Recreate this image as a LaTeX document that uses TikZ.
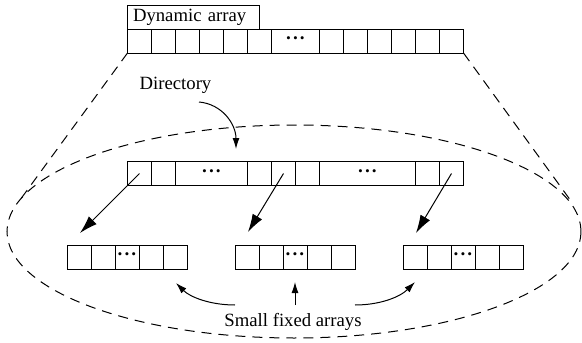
\documentclass[tikz,border=0pt]{standalone}
\usepackage{fontspec}
\setmainfont{Liberation Serif}
\usetikzlibrary{arrows.meta}
\newcommand{\mydots}{\textbf{·\kern0.6pt·\kern0.6pt·}}
\begin{document}
\begin{tikzpicture}[x=1pt,y=-1pt,
  every node/.style={font=\fontsize{18.7}{22}\selectfont},
  cell/.style={draw,line width=1pt,minimum width=24pt,minimum height=24pt,inner sep=0pt,outer sep=0pt,anchor=north west},
  dotfont/.style={font=\fontsize{19}{19}\selectfont},
  ln/.style={line width=1pt},
  bigarr/.style={ln,-{Latex[length=18pt,width=11pt]}},
  smallarr/.style={ln,-{Latex[length=11pt,width=7pt]}},
  dashline/.style={line width=1pt,dash pattern=on 10pt off 7pt}
]
\useasboundingbox (0,0) rectangle (582,343);

% top dynamic array
\node[cell,inner xsep=5.5pt,text width=121pt,align=left] (lbl) at (127.5,5) {Dynamic array};
\foreach \i in {0,...,5} \node[cell] (t\i) at (127.5+24*\i,29) {};
\node[cell,minimum width=48pt,dotfont] (td) at (271.5,29) {\mydots};
\foreach \i in {0,...,5} \node[cell] (u\i) at (319.5+24*\i,29) {};

% ellipse and zoom lines
\draw[dashline] (294,231.5) ellipse [x radius=287pt, y radius=106.5pt];
\coordinate (eL) at (20,200);
\coordinate (eR) at (571,201);
\draw[dashline] (t0.south west) -- (eL);
\draw[dashline] (u5.south east) -- (eR);

% directory
\node[cell] (d1) at (127.5,161.5) {};
\node[cell] (d2) at (151.5,161.5) {};
\node[cell,minimum width=72pt,dotfont] (d3) at (175.5,161.5) {\mydots};
\node[cell] (d4) at (247.5,161.5) {};
\node[cell] (d5) at (271.5,161.5) {};
\node[cell] (d6) at (295.5,161.5) {};
\node[cell,minimum width=96pt,dotfont] (d7) at (319.5,161.5) {\mydots};
\node[cell] (d8) at (415.5,161.5) {};
\node[cell] (d9) at (439.5,161.5) {};

\node (dirlbl) at (175.5,85) {Directory};
\coordinate (dstart) at (199,102);
\coordinate (dend) at (236,149);
\draw[smallarr] (dstart) .. controls (222,104) and (236,124) .. (dend);

% small fixed arrays
\foreach \a/\x in {1/67,2/235,3/403}{
  \node[cell] (s\a a) at (\x,245) {};
  \node[cell] (s\a b) at (\x+24,245) {};
  \node[cell,dotfont] (s\a c) at (\x+48,245) {\mydots};
  \node[cell] (s\a d) at (\x+72,245) {};
  \node[cell] (s\a e) at (\x+96,245) {};
}
\coordinate (p1) at (80,233);
\coordinate (p2) at (248,232);
\coordinate (p3) at (416,233);
\draw[bigarr] (d1.center) -- (p1);
\draw[bigarr] (d5.center) -- (p2);
\draw[bigarr] (d9.center) -- (p3);

\node (sfa) at (293,322) {Small fixed arrays};
\coordinate (b1) at (235,305);
\coordinate (b2) at (295,305);
\coordinate (b3) at (355,305);
\coordinate (q1) at (176,283);
\coordinate (q2) at (295,282);
\coordinate (q3) at (415,282);
\draw[smallarr] (b1) .. controls (210,305) and (190,297) .. (q1);
\draw[smallarr] (b2) -- (q2);
\draw[smallarr] (b3) .. controls (380,305) and (400,297) .. (q3);
\end{tikzpicture}
\end{document}
